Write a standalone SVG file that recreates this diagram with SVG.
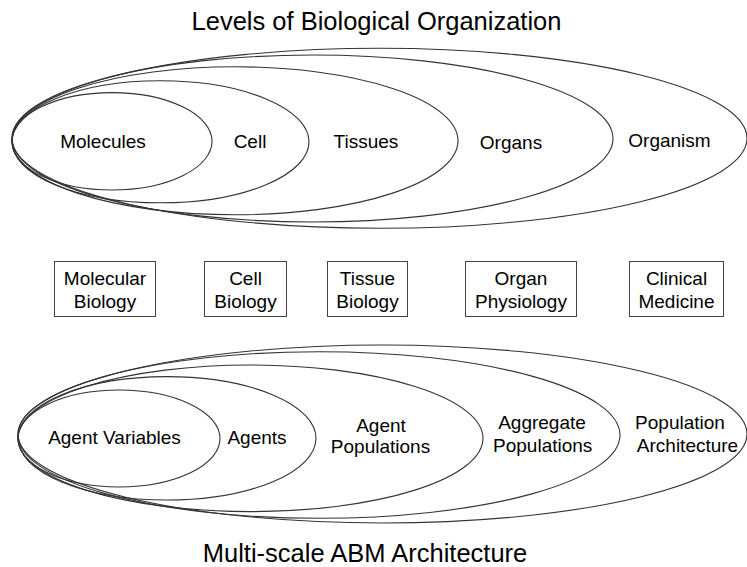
<svg xmlns="http://www.w3.org/2000/svg" width="747" height="567" viewBox="0 0 747 567">
<style>
.e{fill:none;stroke:#333;stroke-width:1.1}
.b{fill:#fff;stroke:#444;stroke-width:1}
text{font-family:"Liberation Sans",Arial,sans-serif;fill:#000;text-anchor:middle}
.l{font-size:19px}
.t{font-size:25.5px}
</style>
<rect width="747" height="567" fill="#fff"/>
<text class="t" x="376.5" y="30">Levels of Biological Organization</text>
<g id="bio-levels">
<g id="organism"><ellipse class="e" cx="379.5" cy="138.3" rx="367.5" ry="90"/><text class="l" x="669.5" y="147">Organism</text></g>
<g id="organs"><ellipse class="e" cx="312.5" cy="138.5" rx="300.5" ry="83.5"/><text class="l" x="511" y="149">Organs</text></g>
<g id="tissues"><ellipse class="e" cx="235" cy="140.8" rx="223" ry="74"/><text class="l" x="366" y="148">Tissues</text></g>
<g id="cell"><ellipse class="e" cx="160.5" cy="141.8" rx="148.5" ry="61"/><text class="l" x="250" y="148">Cell</text></g>
<g id="molecules"><ellipse class="e" cx="112" cy="141.3" rx="100" ry="48.7"/><text class="l" x="103" y="148">Molecules</text></g>
</g>
<g id="disciplines">
<g id="molecular-biology"><rect class="b" x="54.5" y="261.5" width="101" height="55"/><text class="l" x="105" y="285">Molecular</text><text class="l" x="105" y="308">Biology</text></g>
<g id="cell-biology"><rect class="b" x="204.5" y="261.5" width="82" height="55"/><text class="l" x="245.5" y="285">Cell</text><text class="l" x="245.5" y="308">Biology</text></g>
<g id="tissue-biology"><rect class="b" x="327.5" y="261.5" width="80" height="55"/><text class="l" x="367.5" y="285">Tissue</text><text class="l" x="367.5" y="308">Biology</text></g>
<g id="organ-physiology"><rect class="b" x="465.5" y="261.5" width="111" height="55"/><text class="l" x="521" y="285">Organ</text><text class="l" x="521" y="308">Physiology</text></g>
<g id="clinical-medicine"><rect class="b" x="629.5" y="261.5" width="94" height="55"/><text class="l" x="676.5" y="285">Clinical</text><text class="l" x="676.5" y="308">Medicine</text></g>
</g>
<g id="abm-levels">
<g id="population-architecture"><ellipse class="e" cx="382.5" cy="434" rx="364.5" ry="89"/><text class="l" x="680" y="429">Population</text><text class="l" x="687.5" y="451.5">Architecture</text></g>
<g id="aggregate-populations"><ellipse class="e" cx="319" cy="435" rx="301" ry="83.3"/><text class="l" x="542" y="429">Aggregate</text><text class="l" x="542.7" y="451.5">Populations</text></g>
<g id="agent-populations"><ellipse class="e" cx="250.5" cy="438.3" rx="232.5" ry="73.3"/><text class="l" x="381" y="431.5">Agent</text><text class="l" x="380.5" y="453">Populations</text></g>
<g id="agents"><ellipse class="e" cx="167" cy="438.3" rx="149" ry="61.7"/><text class="l" x="257" y="444">Agents</text></g>
<g id="agent-variables"><ellipse class="e" cx="119" cy="438.5" rx="101" ry="48.5"/><text class="l" x="114.5" y="444">Agent Variables</text></g>
</g>
<g id="connectors"/>
<text class="t" x="365" y="562">Multi-scale ABM Architecture</text>
</svg>
